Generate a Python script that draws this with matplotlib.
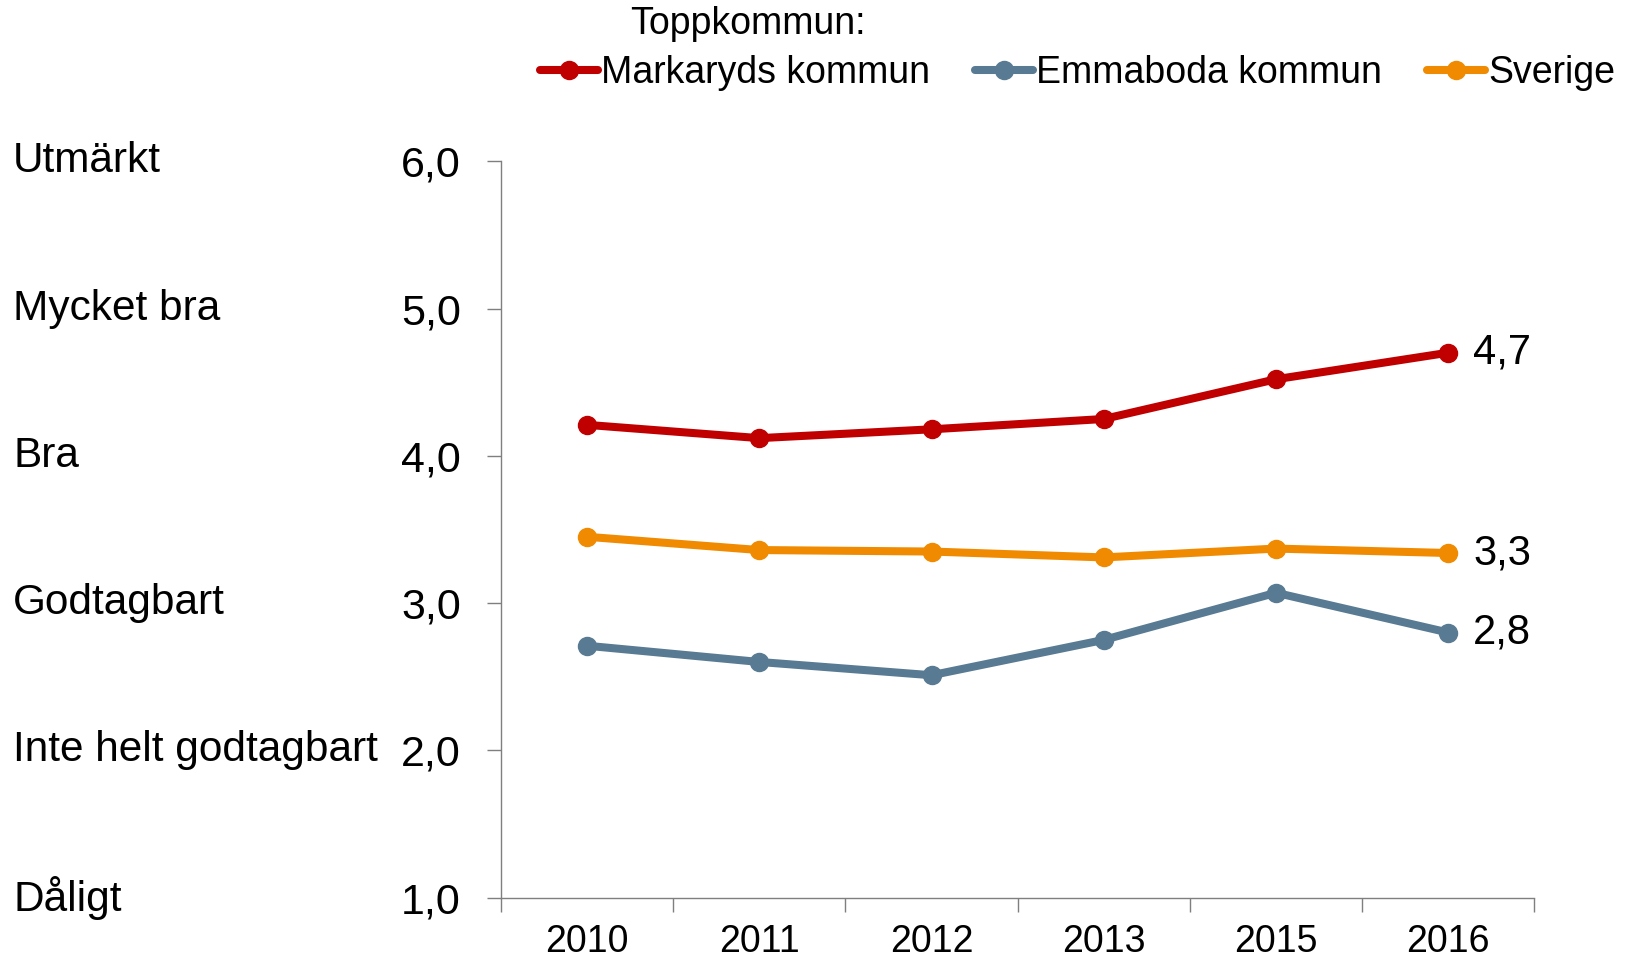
import matplotlib.pyplot as plt
from matplotlib.transforms import blended_transform_factory

plt.rcParams['font.family'] = ['Liberation Sans', 'DejaVu Sans']

# Data
years = ["2010", "2011", "2012", "2013", "2015", "2016"]
markaryd = [4.21, 4.12, 4.18, 4.25, 4.52, 4.70]
emmaboda = [2.71, 2.60, 2.51, 2.75, 3.07, 2.80]
sverige = [3.45, 3.36, 3.35, 3.31, 3.37, 3.34]
end_labels = ["4,7", "2,8", "3,3"]
scale_labels = ["Dåligt", "Inte helt godtagbart", "Godtagbart", "Bra", "Mycket bra", "Utmärkt"]
scale_values = [1, 2, 3, 4, 5, 6]

names = ["Markaryds kommun", "Emmaboda kommun", "Sverige"]
colors = ["#C00000", "#587A92", "#F08A00"]

fig = plt.figure(figsize=(16.27, 9.6), dpi=100)
ax = fig.add_axes([0.308, 0.065, 0.635, 0.767])

x = list(range(len(years)))
for serie, name, col, lab in zip([markaryd, emmaboda, sverige], names, colors, end_labels):
    ax.plot(x, serie, color=col, lw=5.8, marker="o", ms=13, label=name,
            solid_capstyle="round")
    ax.annotate(lab, (x[-1], serie[-1]), xytext=(18, 0), textcoords="offset points",
                va="center", ha="left", fontsize=30)

ax.set_xlim(-0.5, len(years) - 0.5)
ax.set_ylim(1, 6)
ax.set_yticks(scale_values)
ax.set_yticklabels([f"{v},0" for v in scale_values], fontsize=31)
ax.set_xticks([i - 0.5 for i in range(len(years) + 1)])
ax.set_xticklabels([])
ax.set_xticks(x, minor=True)
ax.set_xticklabels(years, minor=True, fontsize=27)
ax.tick_params(axis="x", which="minor", length=0, pad=19)
ax.tick_params(axis="x", which="major", length=10, color="#7f7f7f", width=1)
ax.tick_params(axis="y", length=10, color="#7f7f7f", width=1, pad=19)

for s in ["top", "right"]:
    ax.spines[s].set_visible(False)
for s in ["left", "bottom"]:
    ax.spines[s].set_color("#7f7f7f")
    ax.spines[s].set_linewidth(1)

# Left scale descriptions
trans = blended_transform_factory(fig.transFigure, ax.transData)
for v, t in zip(scale_values, scale_labels):
    ax.text(0.008, v, t, transform=trans, ha="left", va="center", fontsize=30.5)

fig.text(748 / 1627, 1 - 24 / 960, "Toppkommun:", ha="center", va="center", fontsize=27)
fig.legend(loc="center left", bbox_to_anchor=(540 / 1627, 1 - 73 / 960), ncol=3,
           frameon=False, fontsize=27, handlelength=1.55, handletextpad=0.08,
           columnspacing=1.2, borderpad=0, borderaxespad=0, markerscale=1)

fig.savefig("out.png", dpi=100)
